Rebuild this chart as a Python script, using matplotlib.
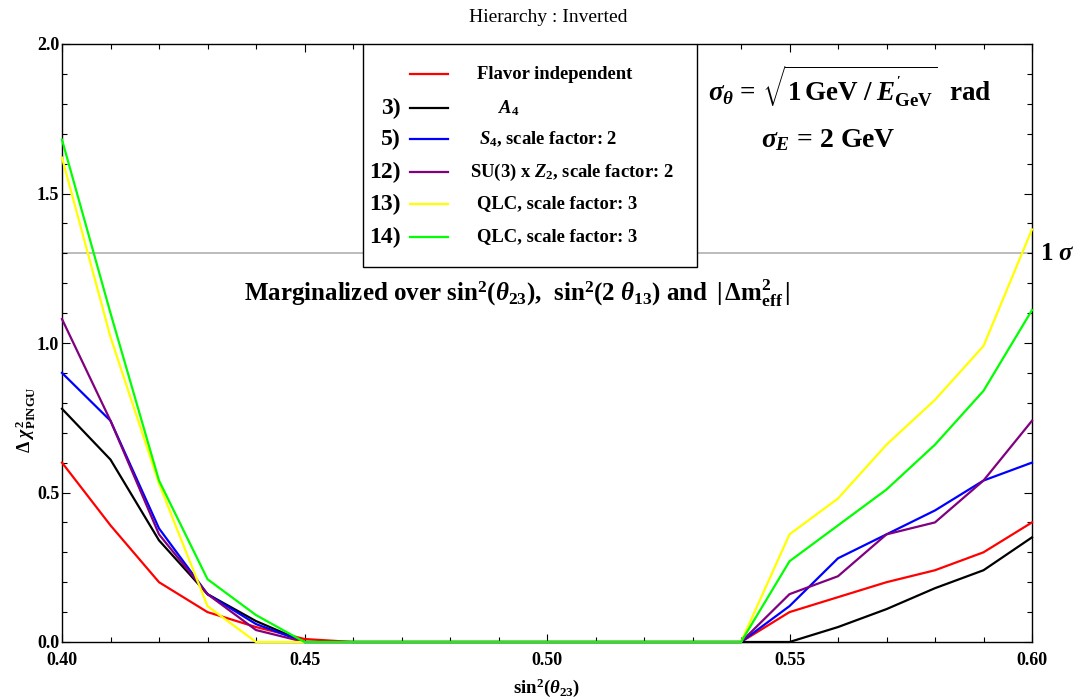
import matplotlib
matplotlib.use("Agg")
import matplotlib.pyplot as plt
from matplotlib.ticker import MultipleLocator, FormatStrFormatter
from matplotlib.patches import Rectangle
from matplotlib.transforms import blended_transform_factory

plt.rcParams['font.family'] = ['Liberation Serif', 'DejaVu Serif']
plt.rcParams['mathtext.fontset'] = 'custom'
plt.rcParams['mathtext.rm'] = 'Liberation Serif:bold'
plt.rcParams['mathtext.it'] = 'Liberation Serif:italic:bold'
plt.rcParams['mathtext.bf'] = 'Liberation Serif:bold'

# sin^2(theta_23) grid
sin2_theta23 = [0.40, 0.41, 0.42, 0.43, 0.44, 0.45, 0.46, 0.47, 0.48, 0.49, 0.50,
                0.51, 0.52, 0.53, 0.54, 0.55, 0.56, 0.57, 0.58, 0.59, 0.60]

# Delta chi^2 for each model
flavor_independent = [0.60, 0.39, 0.20, 0.10, 0.05, 0.01, 0.0, 0.0, 0.0, 0.0, 0.0,
                      0.0, 0.0, 0.0, 0.0, 0.10, 0.15, 0.20, 0.24, 0.30, 0.40]
a4 = [0.78, 0.61, 0.34, 0.16, 0.07, 0.0, 0.0, 0.0, 0.0, 0.0, 0.0,
      0.0, 0.0, 0.0, 0.0, 0.0, 0.05, 0.11, 0.18, 0.24, 0.35]
s4 = [0.90, 0.74, 0.38, 0.16, 0.06, 0.0, 0.0, 0.0, 0.0, 0.0, 0.0,
      0.0, 0.0, 0.0, 0.0, 0.12, 0.28, 0.36, 0.44, 0.54, 0.60]
su3_z2 = [1.08, 0.74, 0.36, 0.16, 0.04, 0.0, 0.0, 0.0, 0.0, 0.0, 0.0,
          0.0, 0.0, 0.0, 0.0, 0.16, 0.22, 0.36, 0.40, 0.54, 0.74]
qlc_13 = [1.62, 1.02, 0.53, 0.12, 0.0, 0.0, 0.0, 0.0, 0.0, 0.0, 0.0,
          0.0, 0.0, 0.0, 0.0, 0.36, 0.48, 0.66, 0.81, 0.99, 1.38]
qlc_14 = [1.68, 1.10, 0.54, 0.21, 0.09, 0.0, 0.0, 0.0, 0.0, 0.0, 0.0,
          0.0, 0.0, 0.0, 0.0, 0.27, 0.39, 0.51, 0.66, 0.84, 1.11]

series = [flavor_independent, a4, s4, su3_z2, qlc_13, qlc_14]
colors = ['#ff0000', '#000000', '#0000ff', '#800080', '#ffff00', '#00ff00']
numbers = ['', '3)', '5)', '12)', '13)', '14)']
labels = ['Flavor independent', r'$A_{\mathbf{4}}$', r'$S_{\mathbf{4}}$, scale factor: 2',
          r'SU(3) x $Z_{\mathbf{2}}$, scale factor: 2',
          'QLC, scale factor: 3', 'QLC, scale factor: 3']
one_sigma = 1.3

fig = plt.figure(figsize=(10.81, 7.0), dpi=100)
ax = fig.add_axes([62 / 1081, 58 / 700, 970 / 1081, 598 / 700])

ax.axhline(one_sigma, color='#b0b0b0', lw=1.2, zorder=1)
for ys, c in zip(series, colors):
    ax.plot(sin2_theta23, ys, color=c, lw=1.6, clip_on=False, zorder=3)

ax.set_xlim(0.40, 0.60)
ax.set_ylim(0.0, 2.0)
ax.xaxis.set_major_locator(MultipleLocator(0.05))
ax.xaxis.set_minor_locator(MultipleLocator(0.01))
ax.yaxis.set_major_locator(MultipleLocator(0.5))
ax.yaxis.set_minor_locator(MultipleLocator(0.1))
ax.xaxis.set_major_formatter(FormatStrFormatter('%.2f'))
ax.yaxis.set_major_formatter(FormatStrFormatter('%.1f'))
ax.tick_params(which='both', direction='in', top=True, right=True, width=0.8)
ax.tick_params(which='major', length=6)
ax.tick_params(which='minor', length=3.5)
ax.tick_params(axis='x', pad=7)
ax.tick_params(axis='y', pad=2)
for lab in ax.get_xticklabels() + ax.get_yticklabels():
    lab.set_fontsize(13)
    lab.set_fontweight('bold')
for sp in ax.spines.values():
    sp.set_linewidth(1.0)

# legend box
ax.add_patch(Rectangle((0.3103, 0.627), 0.3443, 0.373, transform=ax.transAxes,
                       facecolor='white', edgecolor='black', lw=1.0, zorder=5))
row_y = [0.9498, 0.8930, 0.8411, 0.7860, 0.7324, 0.6773]
label_x = [0.4278, 0.4495, 0.4299, 0.4206, 0.4278, 0.4278]
for ry, c, n, lab, lx in zip(row_y, colors, numbers, labels, label_x):
    ax.plot([0.3588, 0.3979], [ry, ry], color=c, lw=1.6, transform=ax.transAxes, zorder=6)
    if n:
        ax.text(0.3490, ry, n, transform=ax.transAxes, ha='right', va='center',
                fontsize=17, fontweight='bold', zorder=6)
    ax.text(lx, ry, lab, transform=ax.transAxes, ha='left', va='center',
            fontsize=13.4, fontweight='bold', zorder=6)

# resolution formulas
ax.text(0.812, 0.928,
        r"$\sigma_{\theta}$ = $\sqrt{1\,\mathrm{GeV}\;/\;E^{'}_{\mathrm{GeV}}}$  rad",
        transform=ax.transAxes, ha='center', va='center', fontsize=19.5, fontweight='bold')
ax.text(0.790, 0.8395, r"$\sigma_{E}$ = 2 GeV", transform=ax.transAxes,
        ha='center', va='center', fontsize=20, fontweight='bold')

ax.text(0.469, 0.5836,
        r"Marginalized over sin$^{\mathbf{2}}$($\theta_{\mathbf{23}}$),  sin$^{\mathbf{2}}$(2 $\theta_{\mathbf{13}}$) and $\,|\,\Delta$m$^{\mathbf{2}}_{\mathrm{eff}}\,|$",
        transform=ax.transAxes, ha='center', va='center', fontsize=18, fontweight='bold')

trans = blended_transform_factory(ax.transAxes, ax.transData)
ax.text(1.008, one_sigma, r"1 $\sigma$", transform=trans, ha='left', va='center',
        fontsize=18, fontweight='bold', clip_on=False)

fig.text(548 / 1081, 1 - 18 / 700, "Hierarchy : Inverted", ha='center', va='center', fontsize=14)
fig.text(547 / 1081, 1 - 688 / 700, r"sin$^{\mathbf{2}}$($\theta_{\mathbf{23}}$)",
         ha='center', va='center', fontsize=13.5, fontweight='bold')
fig.text(26 / 1081, 1 - 420 / 700, r"$\Delta\ \chi^{\mathbf{2}}_{\mathrm{PINGU}}$",
         ha='center', va='center', rotation=90, fontsize=13, fontweight='bold')

fig.savefig("out.png", dpi=100)
